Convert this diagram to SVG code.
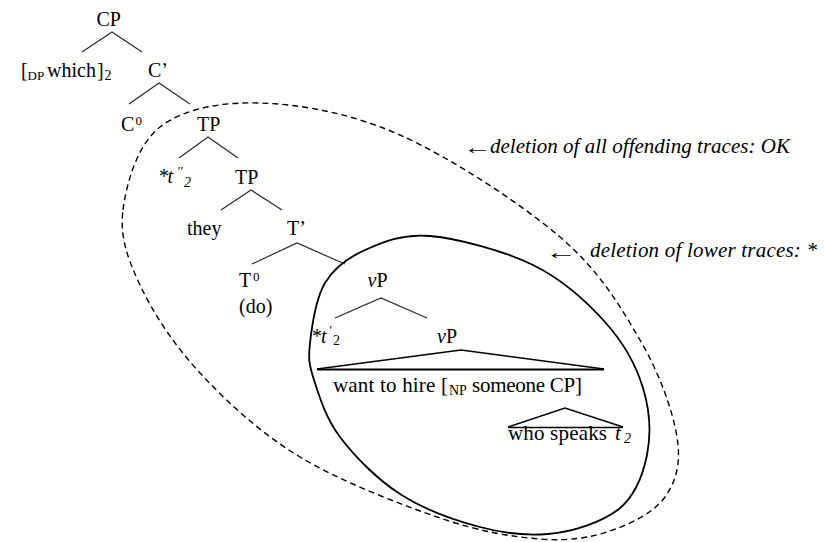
<svg xmlns="http://www.w3.org/2000/svg" width="831" height="542" viewBox="0 0 831 542">
  <style>
    text { fill: #000; }
    .lbl { font-size: 20px; }
    .big { font-size: 21px; }
    .sub { font-size: 13px; }
    .it { font-style: italic; }
    .branch { stroke: #2a2a2a; stroke-width: 1.2; fill: none; }
    .tri { stroke: #000; stroke-width: 1.6; fill: none; stroke-linejoin: miter; }
    .base { stroke: #000; stroke-width: 2; }
    .zone-all { stroke: #000; stroke-width: 1.4; fill: none; stroke-dasharray: 6 4; }
    .zone-low { stroke: #000; stroke-width: 1.8; fill: none; }
    .note { font-size: 21px; font-style: italic; }
  </style>

  <!-- deletion domains -->
  <g id="domains">
    <path id="domain-all" class="zone-all" d="M123,210 C126.3,183.7 137.2,144.8 160,127 C182.8,109.2 220,101.7 260,103 C300,104.3 350,112.7 400,135 C450,157.3 520,202.8 560,237 C600,271.2 620.5,306.7 640,340 C659.5,373.3 672.8,410.8 677,437 C681.2,463.2 676.2,481.3 665,497 C653.8,512.7 630.8,524 610,531 C589.2,538 568.3,541.2 540,539 C511.7,536.8 480,531.7 440,518 C400,504.3 340,481.2 300,457 C260,432.8 226.7,401.7 200,373 C173.3,344.3 152.8,312.2 140,285 C127.2,257.8 119.7,236.3 123,210 Z"/>
    <path id="domain-lower" class="zone-low" d="M310,343 C311.8,326.8 315.8,298.5 325,283 C334.2,267.5 347.5,257.8 365,250 C382.5,242.2 402,233.5 430,236 C458,238.5 503.8,250.7 533,265 C562.2,279.3 586.8,301.7 605,322 C623.2,342.3 636,364.8 643,388 C650,411 651,435 647,455 C643,475 636,495 619,509 C602,522 573.3,532 548,534 C524,536 504,533.5 480,527 C455,520.5 423.3,509 400,494 C376.7,479 354.3,456 340,437 C325.7,418 319,395.7 314,380 C309,364.3 308.2,359.2 310,343 Z"/>
  </g>

  <!-- tree branches -->
  <g id="connectors">
    <polyline class="branch" points="82,52 112,32 142,52"/>
    <polyline class="branch" points="129,104 159,83 190,104"/>
    <polyline class="branch" points="179,158 208,137 238,158"/>
    <polyline class="branch" points="221,210 251,190 282,210"/>
    <polyline class="branch" points="252,264 297,243 345,264"/>
    <polyline class="branch" points="335,318 381,298 427,318"/>
    <polyline class="tri" points="317,369 461,350 604,369"/>
    <line class="base" x1="317" y1="369.5" x2="604" y2="369.5"/>
    <polyline class="tri" points="508,427 565,408 623,427"/>
    <line class="tri" x1="508" y1="427.5" x2="623" y2="427.5"/>
  </g>

  <g id="cp">
    <text font-family="Liberation Serif" class="lbl" x="96.5" y="26">CP</text>
  </g>
  <g id="dp-which">
    <text font-family="Liberation Serif" class="lbl" x="21" y="77">[</text>
    <text font-family="Liberation Serif" class="sub" x="27.5" y="80">DP</text>
    <text font-family="Liberation Serif" class="lbl" x="47" y="77">which</text>
    <text font-family="Liberation Serif" class="lbl" x="97" y="77">]</text>
    <text font-family="Liberation Serif" class="sub" x="104.5" y="80" style="font-size:14px">2</text>
  </g>
  <g id="c-bar">
    <text font-family="Liberation Serif" class="lbl" x="148" y="77">C’</text>
  </g>
  <g id="c-head">
    <text font-family="Liberation Serif" class="lbl" x="121" y="131">C</text>
    <text font-family="Liberation Serif" class="sub" x="135.5" y="124.5">0</text>
  </g>
  <g id="tp-upper">
    <text font-family="Liberation Serif" class="lbl" x="197" y="131">TP</text>
  </g>
  <g id="trace-2">
    <text font-family="Liberation Serif" class="lbl" x="159" y="183">*</text>
    <text font-family="Liberation Serif" class="lbl it" x="167.5" y="183">t</text>
    <text font-family="Liberation Serif" class="sub it" x="177" y="175">''</text>
    <text font-family="Liberation Serif" class="sub it" x="184" y="187" style="font-size:14px">2</text>
  </g>
  <g id="tp-lower">
    <text font-family="Liberation Serif" class="lbl" x="235" y="184">TP</text>
  </g>
  <g id="they">
    <text font-family="Liberation Serif" class="lbl" x="187" y="235">they</text>
  </g>
  <g id="t-bar">
    <text font-family="Liberation Serif" class="lbl" x="287" y="235">T’</text>
  </g>
  <g id="t-head">
    <text font-family="Liberation Serif" class="lbl" x="239" y="287">T</text>
    <text font-family="Liberation Serif" class="sub" x="253" y="281">0</text>
    <text font-family="Liberation Serif" class="lbl" x="239" y="313">(do)</text>
  </g>
  <g id="vp-upper">
    <text font-family="Liberation Serif" class="lbl" x="367.5" y="287"><tspan class="it">v</tspan>P</text>
  </g>
  <g id="trace-1">
    <text font-family="Liberation Serif" class="lbl" x="312" y="343">*</text>
    <text font-family="Liberation Serif" class="lbl it" x="321" y="343">t</text>
    <text font-family="Liberation Serif" class="sub it" x="328.5" y="334">'</text>
    <text font-family="Liberation Serif" class="sub" x="333" y="345" style="font-size:14px">2</text>
  </g>
  <g id="vp-lower">
    <text font-family="Liberation Serif" class="lbl" x="437" y="343"><tspan class="it">v</tspan>P</text>
  </g>
  <g id="vp-content">
    <text font-family="Liberation Serif" class="big" x="333" y="392" textLength="115">want to hire [</text>
    <text font-family="Liberation Serif" class="sub" x="449" y="395" style="font-size:14px">NP</text>
    <text font-family="Liberation Serif" class="big" x="472" y="392" textLength="110">someone CP]</text>
  </g>
  <g id="cp-content">
    <text font-family="Liberation Serif" class="big" x="508" y="440" textLength="99">who speaks</text>
    <text font-family="Liberation Serif" class="big it" x="615" y="440">t</text>
    <text font-family="Liberation Serif" class="sub it" x="624" y="443" style="font-size:14px">2</text>
  </g>

  <g id="note-all">
    <text font-family="Liberation Serif" class="lbl" transform="translate(463,154) scale(1.45,1)" x="0" y="0">←</text>
    <text font-family="Liberation Serif" class="note" x="490" y="153" textLength="300">deletion of all offending traces: OK</text>
  </g>
  <g id="note-lower">
    <text font-family="Liberation Serif" class="lbl" transform="translate(545,258.5) scale(1.6,1)" x="0" y="0">←</text>
    <text font-family="Liberation Serif" class="note" x="590" y="257" textLength="227">deletion of lower traces: *</text>
  </g>
</svg>
